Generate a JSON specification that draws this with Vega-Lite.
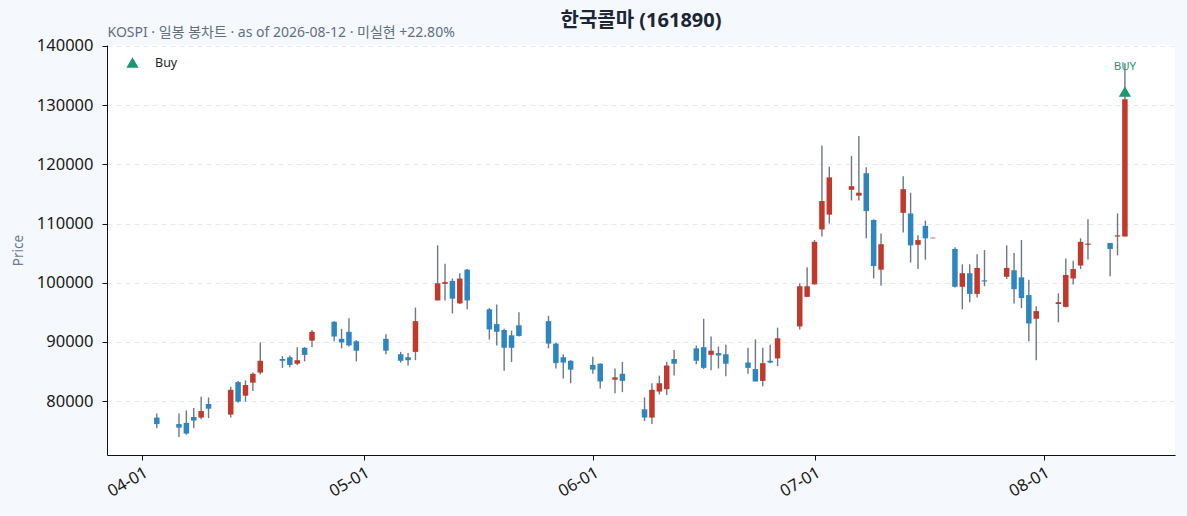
{
  "$schema": "https://vega.github.io/schema/vega-lite/v6.json",
  "width": 1068,
  "height": 410,
  "autosize": "none",
  "padding": {"left": 107, "top": 45, "right": 12, "bottom": 61},
  "background": "#f5f8fc",
  "title": {
    "text": "한국콜마 (161890)",
    "anchor": "middle",
    "frame": "group",
    "font": "Noto Sans, Noto Sans CJK KR",
    "fontSize": 20,
    "fontWeight": "bold",
    "color": "#1b2536",
    "offset": 4,
    "dy": 10
  },
  "datasets": {
    "ohlc": [
      {"date": "2026-04-03", "open": 77200, "close": 76100, "high": 77900, "low": 75400},
      {"date": "2026-04-06", "open": 76100, "close": 75500, "high": 77900, "low": 73900},
      {"date": "2026-04-07", "open": 76300, "close": 74500, "high": 78400, "low": 74300},
      {"date": "2026-04-08", "open": 77300, "close": 76700, "high": 78800, "low": 75400},
      {"date": "2026-04-09", "open": 77200, "close": 78300, "high": 80700, "low": 76900},
      {"date": "2026-04-10", "open": 79500, "close": 78700, "high": 80600, "low": 77100},
      {"date": "2026-04-13", "open": 77700, "close": 81900, "high": 82400, "low": 77200},
      {"date": "2026-04-14", "open": 83200, "close": 79900, "high": 83400, "low": 79700},
      {"date": "2026-04-15", "open": 80900, "close": 82700, "high": 83500, "low": 79900},
      {"date": "2026-04-16", "open": 83100, "close": 84600, "high": 84800, "low": 81700},
      {"date": "2026-04-17", "open": 84800, "close": 86800, "high": 89900, "low": 84500},
      {"date": "2026-04-20", "open": 87100, "close": 86800, "high": 87600, "low": 85600},
      {"date": "2026-04-21", "open": 87400, "close": 86100, "high": 87700, "low": 85700},
      {"date": "2026-04-22", "open": 86300, "close": 86900, "high": 89100, "low": 86100},
      {"date": "2026-04-23", "open": 89000, "close": 87800, "high": 89100, "low": 86700},
      {"date": "2026-04-24", "open": 90200, "close": 91700, "high": 92000, "low": 89100},
      {"date": "2026-04-27", "open": 93400, "close": 90900, "high": 93500, "low": 90100},
      {"date": "2026-04-28", "open": 90500, "close": 89900, "high": 92200, "low": 88900},
      {"date": "2026-04-29", "open": 91700, "close": 89400, "high": 94000, "low": 89200},
      {"date": "2026-04-30", "open": 90100, "close": 88500, "high": 90300, "low": 86700},
      {"date": "2026-05-04", "open": 90500, "close": 88500, "high": 91300, "low": 87900},
      {"date": "2026-05-06", "open": 87900, "close": 86800, "high": 88300, "low": 86500},
      {"date": "2026-05-07", "open": 87400, "close": 86900, "high": 88100, "low": 86000},
      {"date": "2026-05-08", "open": 88300, "close": 93500, "high": 95800, "low": 86900},
      {"date": "2026-05-11", "open": 97000, "close": 99900, "high": 106300, "low": 97000},
      {"date": "2026-05-12", "open": 99800, "close": 100100, "high": 103200, "low": 97000},
      {"date": "2026-05-13", "open": 100300, "close": 97300, "high": 100700, "low": 94800},
      {"date": "2026-05-14", "open": 96500, "close": 100700, "high": 101600, "low": 96400},
      {"date": "2026-05-15", "open": 102200, "close": 97000, "high": 102300, "low": 95500},
      {"date": "2026-05-18", "open": 95500, "close": 92100, "high": 95700, "low": 90400},
      {"date": "2026-05-19", "open": 93000, "close": 91700, "high": 96300, "low": 89400},
      {"date": "2026-05-20", "open": 92000, "close": 89000, "high": 92200, "low": 85100},
      {"date": "2026-05-21", "open": 91100, "close": 89000, "high": 91900, "low": 86600},
      {"date": "2026-05-22", "open": 92800, "close": 91000, "high": 95000, "low": 90900},
      {"date": "2026-05-26", "open": 93500, "close": 89700, "high": 94400, "low": 88900},
      {"date": "2026-05-27", "open": 89700, "close": 86400, "high": 89900, "low": 85500},
      {"date": "2026-05-28", "open": 87400, "close": 86500, "high": 87900, "low": 83800},
      {"date": "2026-05-29", "open": 86800, "close": 85300, "high": 86900, "low": 83000},
      {"date": "2026-06-01", "open": 86100, "close": 85300, "high": 87500, "low": 84600},
      {"date": "2026-06-02", "open": 86300, "close": 83300, "high": 86400, "low": 82100},
      {"date": "2026-06-04", "open": 83600, "close": 84000, "high": 85500, "low": 81300},
      {"date": "2026-06-05", "open": 84600, "close": 83400, "high": 86600, "low": 81500},
      {"date": "2026-06-08", "open": 78600, "close": 77200, "high": 80600, "low": 76600},
      {"date": "2026-06-09", "open": 77200, "close": 81900, "high": 83000, "low": 76100},
      {"date": "2026-06-10", "open": 81600, "close": 83000, "high": 84300, "low": 81100},
      {"date": "2026-06-11", "open": 82000, "close": 86000, "high": 86600, "low": 81000},
      {"date": "2026-06-12", "open": 87100, "close": 86300, "high": 88600, "low": 84300},
      {"date": "2026-06-15", "open": 88900, "close": 86800, "high": 89400, "low": 86200},
      {"date": "2026-06-16", "open": 89100, "close": 85600, "high": 93900, "low": 85400},
      {"date": "2026-06-17", "open": 87800, "close": 88500, "high": 90900, "low": 85200},
      {"date": "2026-06-18", "open": 88100, "close": 87700, "high": 89200, "low": 85500},
      {"date": "2026-06-19", "open": 87900, "close": 86300, "high": 89500, "low": 84200},
      {"date": "2026-06-22", "open": 86500, "close": 85600, "high": 89000, "low": 84600},
      {"date": "2026-06-23", "open": 85400, "close": 83300, "high": 90400, "low": 83300},
      {"date": "2026-06-24", "open": 83400, "close": 86400, "high": 89000, "low": 82500},
      {"date": "2026-06-25", "open": 86800, "close": 86500, "high": 89500, "low": 86400},
      {"date": "2026-06-26", "open": 87200, "close": 90600, "high": 92400, "low": 85900},
      {"date": "2026-06-29", "open": 92600, "close": 99400, "high": 99900, "low": 92100},
      {"date": "2026-06-30", "open": 97600, "close": 99400, "high": 102600, "low": 97600},
      {"date": "2026-07-01", "open": 99700, "close": 106900, "high": 107200, "low": 99700},
      {"date": "2026-07-02", "open": 109000, "close": 113800, "high": 123200, "low": 107800},
      {"date": "2026-07-03", "open": 111500, "close": 117800, "high": 119600, "low": 110000},
      {"date": "2026-07-06", "open": 115700, "close": 116300, "high": 121400, "low": 113900},
      {"date": "2026-07-07", "open": 114700, "close": 115200, "high": 124800, "low": 113900},
      {"date": "2026-07-08", "open": 118500, "close": 112100, "high": 119500, "low": 107500},
      {"date": "2026-07-09", "open": 110600, "close": 102800, "high": 110700, "low": 100700},
      {"date": "2026-07-10", "open": 102200, "close": 106500, "high": 108300, "low": 99500},
      {"date": "2026-07-13", "open": 111800, "close": 115800, "high": 118000, "low": 108500},
      {"date": "2026-07-14", "open": 111700, "close": 106300, "high": 115200, "low": 103400},
      {"date": "2026-07-15", "open": 106400, "close": 107200, "high": 108000, "low": 102300},
      {"date": "2026-07-16", "open": 109600, "close": 107500, "high": 110500, "low": 103900},
      {"date": "2026-07-17", "open": 107500, "close": 107600, "high": 107600, "low": 107500},
      {"date": "2026-07-20", "open": 105700, "close": 99300, "high": 106000, "low": 99200},
      {"date": "2026-07-21", "open": 99300, "close": 101600, "high": 103100, "low": 95500},
      {"date": "2026-07-22", "open": 101600, "close": 98100, "high": 103100, "low": 96700},
      {"date": "2026-07-23", "open": 98100, "close": 102500, "high": 104800, "low": 97500},
      {"date": "2026-07-24", "open": 100400, "close": 100200, "high": 105500, "low": 99400},
      {"date": "2026-07-27", "open": 101000, "close": 102500, "high": 106300, "low": 100600},
      {"date": "2026-07-28", "open": 102100, "close": 98900, "high": 105000, "low": 96500},
      {"date": "2026-07-29", "open": 100900, "close": 97400, "high": 107200, "low": 95700},
      {"date": "2026-07-30", "open": 97900, "close": 93100, "high": 100500, "low": 90100},
      {"date": "2026-07-31", "open": 93900, "close": 95200, "high": 96000, "low": 86900},
      {"date": "2026-08-03", "open": 96400, "close": 96700, "high": 98200, "low": 93300},
      {"date": "2026-08-04", "open": 95900, "close": 101300, "high": 104100, "low": 95800},
      {"date": "2026-08-05", "open": 100700, "close": 102300, "high": 103700, "low": 99700},
      {"date": "2026-08-06", "open": 102900, "close": 106900, "high": 107500, "low": 102300},
      {"date": "2026-08-07", "open": 106400, "close": 106600, "high": 110700, "low": 103900},
      {"date": "2026-08-10", "open": 106700, "close": 105700, "high": 106700, "low": 101100},
      {"date": "2026-08-11", "open": 107800, "close": 108000, "high": 111700, "low": 104600},
      {"date": "2026-08-12", "open": 107800, "close": 131000, "high": 137100, "low": 107800}
    ],
    "signals": [
      {"date": "2026-08-12", "signal": "Buy", "price": 132300, "label": "BUY", "labelPrice": 136500}
    ]
  },
  "layer": [
    {
      "data": {"name": "ohlc"},
      "mark": {"type": "rule", "strokeWidth": 1.4, "color": "#6c7887"},
      "encoding": {
        "x": {
          "field": "date",
          "type": "temporal",
          "scale": {
            "type": "utc",
            "padding": 0,
            "domain": [
              {"year": 2026, "month": 3, "date": 27, "hours": 6, "minutes": 15, "utc": true},
              {"year": 2026, "month": 8, "date": 18, "hours": 18, "minutes": 40, "utc": true}
            ]
          },
          "axis": {
            "orient": "bottom",
            "title": null,
            "format": "%m-%d",
            "values": [
              {"year": 2026, "month": 4, "date": 1, "utc": true},
              {"year": 2026, "month": 5, "date": 1, "utc": true},
              {"year": 2026, "month": 6, "date": 1, "utc": true},
              {"year": 2026, "month": 7, "date": 1, "utc": true},
              {"year": 2026, "month": 8, "date": 1, "utc": true}
            ],
            "labelAngle": -30,
            "labelAlign": "right",
            "labelBaseline": "top",
            "labelPadding": 4,
            "grid": false
          }
        },
        "y": {
          "field": "low",
          "type": "quantitative",
          "scale": {"domain": [70875, 140169], "nice": false, "zero": false, "padding": 0},
          "axis": {"title": "Price", "format": "d", "values": [80000, 90000, 100000, 110000, 120000, 130000, 140000]}
        },
        "y2": {"field": "high"}
      }
    },
    {
      "data": {"name": "ohlc"},
      "mark": {"type": "bar", "width": 5.5},
      "encoding": {
        "x": {"field": "date", "type": "temporal", "axis": null},
        "y": {"field": "open", "type": "quantitative", "axis": {"title": "Price", "format": "d", "values": [80000, 90000, 100000, 110000, 120000, 130000, 140000]}},
        "y2": {"field": "close"},
        "color": {
          "condition": {"test": "datum.close >= datum.open", "value": "#c0392b"},
          "value": "#2e86c1"
        }
      }
    },
    {
      "data": {"name": "signals"},
      "mark": {"type": "point", "shape": "triangle-up", "filled": true, "opacity": 1, "size": 150},
      "encoding": {
        "x": {"field": "date", "type": "temporal", "axis": null},
        "y": {"field": "price", "type": "quantitative", "axis": {"title": "Price", "format": "d", "values": [80000, 90000, 100000, 110000, 120000, 130000, 140000]}},
        "shape": {"field": "signal", "type": "nominal", "scale": {"range": ["triangle-up"]}},
        "color": {
          "field": "signal",
          "type": "nominal",
          "scale": {"range": ["#1a9a6c"]},
          "legend": {
            "orient": "none",
            "legendX": 19,
            "legendY": 11,
            "title": null,
            "labelFontSize": 12.5,
            "labelColor": "#222222",
            "labelFont": "Noto Sans, Noto Sans CJK KR",
            "labelOffset": 16,
            "symbolSize": 150
          }
        }
      }
    },
    {
      "data": {"name": "signals"},
      "mark": {"type": "text", "fontSize": 11.5, "color": "#1a9a6c", "font": "Noto Sans, Noto Sans CJK KR", "baseline": "middle"},
      "encoding": {
        "x": {
          "field": "date",
          "type": "temporal",
          "axis": {
            "orient": "top",
            "domain": false,
            "ticks": false,
            "labels": false,
            "grid": false,
            "title": "KOSPI · 일봉 봉차트 · as of 2026-08-12 · 미실현 +22.80%",
            "titleAnchor": "start",
            "titleAlign": "left",
            "titleFontSize": 14,
            "titleFontWeight": "normal",
            "titleColor": "#5f6f84",
            "titlePadding": 6
          }
        },
        "y": {"field": "labelPrice", "type": "quantitative", "axis": {"title": "Price", "format": "d", "values": [80000, 90000, 100000, 110000, 120000, 130000, 140000]}},
        "text": {"field": "label"}
      }
    }
  ],
  "resolve": {"axis": {"x": "independent"}},
  "config": {
    "font": "Noto Sans, Noto Sans CJK KR",
    "view": {"stroke": null, "fill": "white"},
    "axis": {
      "labelFont": "Noto Sans, Noto Sans CJK KR",
      "labelFontSize": 16.5,
      "labelColor": "#1a1a1a",
      "domainColor": "#111111",
      "tickColor": "#111111",
      "tickSize": 5,
      "titleFont": "Noto Sans, Noto Sans CJK KR"
    },
    "axisY": {
      "grid": true,
      "gridColor": "#e6e8eb",
      "gridDash": [5, 4],
      "titleFontSize": 13.5,
      "titleFontWeight": "normal",
      "titleColor": "#6b7a8f",
      "titlePadding": 11,
      "labelPadding": 9
    },
    "legend": {"symbolStrokeWidth": 0}
  }
}
